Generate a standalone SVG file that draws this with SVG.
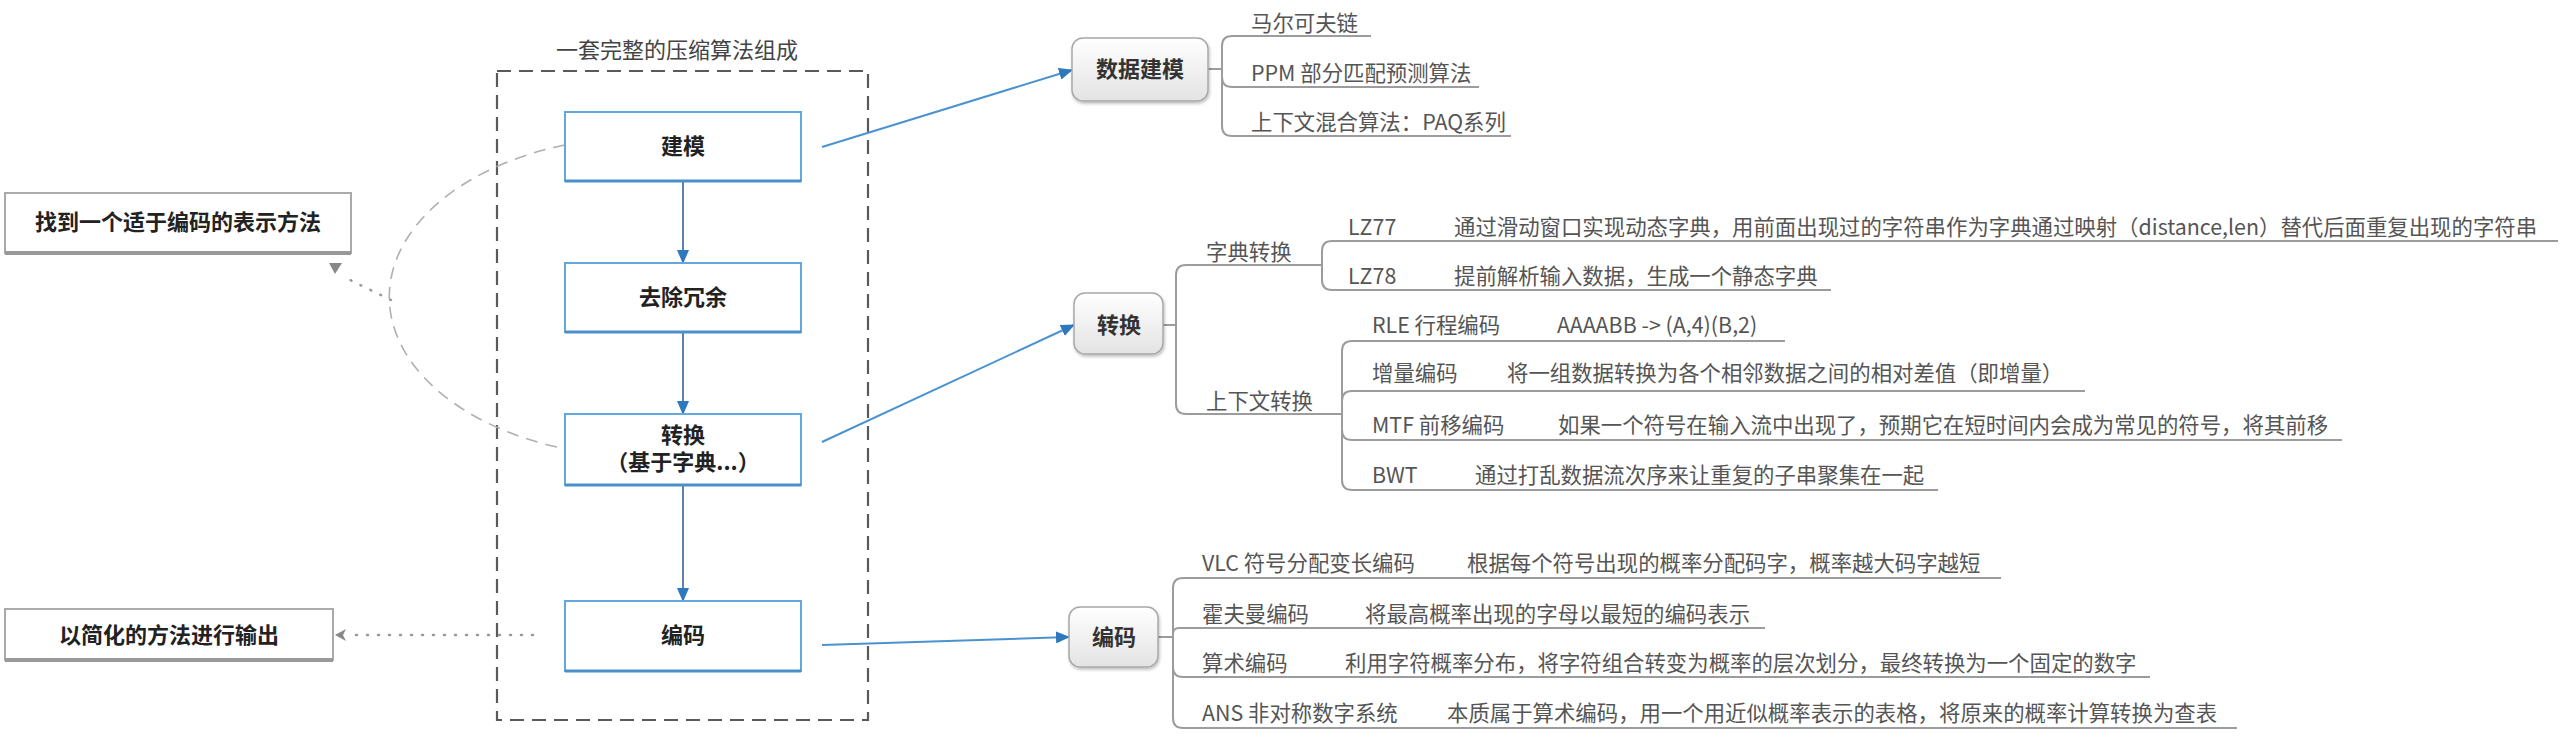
<svg xmlns="http://www.w3.org/2000/svg" width="2560" height="748" viewBox="0 0 2560 748">
<defs>
<style>
.t{font-family:"Noto Sans CJK SC","Noto Sans",sans-serif;}
.leaf{font-size:21.4px;fill:#555;}
.bx{font-size:22px;font-weight:bold;fill:#222;text-anchor:middle;}
.nd{font-size:22px;font-weight:bold;fill:#333;text-anchor:middle;}
.box{fill:#fff;stroke:#62A8DE;stroke-width:2;}
.boxb{stroke:#4A90CC;stroke-width:3;}
.gbox{fill:#fff;stroke:#aaa;stroke-width:2;}
.gboxb{stroke:#999;stroke-width:4;}
.node{fill:url(#ng);stroke:#a8a8a8;stroke-width:1.5;filter:url(#sh);}
.br{fill:none;stroke:#9c9c9c;stroke-width:2;}
.blue{fill:none;stroke:#4A93D0;stroke-width:2;}
.flow{fill:none;stroke:#5A84AA;stroke-width:2;}
</style>
<linearGradient id="ng" x1="0" y1="0" x2="0" y2="1">
<stop offset="0" stop-color="#ffffff"/>
<stop offset="1" stop-color="#e3e3e3"/>
</linearGradient>
<filter id="sh" x="-10%" y="-10%" width="130%" height="140%">
<feDropShadow dx="1" dy="2" stdDeviation="1.5" flood-color="#000" flood-opacity="0.25"/>
</filter>
<marker id="ab" markerWidth="14" markerHeight="12" refX="13" refY="6" orient="auto" markerUnits="userSpaceOnUse">
<path d="M0,0 L14,6 L0,12 z" fill="#2E78BE"/>
</marker>
</defs>
<rect width="2560" height="748" fill="#fff"/>

<g id="frame">
<rect x="497" y="71" width="371" height="649" fill="none" stroke="#5a5a5a" stroke-width="2.2" stroke-dasharray="14,8"/>
<text class="t" x="677" y="58" font-size="22" fill="#444" text-anchor="middle">一套完整的压缩算法组成</text>
</g>

<g id="connectors">
<path d="M565,145 A256,160 0 0 0 561,448" fill="none" stroke="#b0b0b0" stroke-width="1.6" stroke-dasharray="12,8"/>
<path d="M391,300 L346,278" fill="none" stroke="#999" stroke-width="2.5" stroke-dasharray="1,10" stroke-linecap="round"/>
<polygon points="329,263 342,263 335,274" fill="#888"/>
<path d="M533,635 H347" fill="none" stroke="#999" stroke-width="2.5" stroke-dasharray="1,10" stroke-linecap="round"/>
<polygon points="335,635 346,629 343,635 346,641" fill="#888"/>
<line class="flow" x1="683" y1="181" x2="683" y2="263" marker-end="url(#ab)"/>
<line class="flow" x1="683" y1="332" x2="683" y2="414" marker-end="url(#ab)"/>
<line class="flow" x1="683" y1="485" x2="683" y2="601" marker-end="url(#ab)"/>
<line class="blue" x1="822" y1="147" x2="1072" y2="70" marker-end="url(#ab)"/>
<line class="blue" x1="822" y1="442" x2="1074" y2="325" marker-end="url(#ab)"/>
<line class="blue" x1="822" y1="645" x2="1069" y2="637" marker-end="url(#ab)"/>
<path class="br" d="M1208,69 H1222 M1222,69 V46 Q1222,36 1232,36 H1371 M1222,69 V77 Q1222,87 1232,87 H1479 M1222,69 V126 Q1222,136 1232,136 H1511"/>
<path class="br" d="M1163,325 H1176 M1176,325 V275 Q1176,265 1186,265 H1322 M1176,325 V404 Q1176,414 1186,414 H1342"/>
<path class="br" d="M1322,265 V251 Q1322,241 1332,241 H2558 M1322,265 V280 Q1322,290 1332,290 H1831"/>
<path class="br" d="M1342,414 V351 Q1342,341 1352,341 H1785 M1342,414 V401 Q1342,391 1352,391 H2085 M1342,414 V430 Q1342,440 1352,440 H2342 M1342,414 V480 Q1342,490 1352,490 H1938"/>
<path class="br" d="M1158,637 H1173 M1173,637 V588 Q1173,578 1183,578 H2001 M1173,637 V634 Q1173,628 1179,628 H1765 M1173,637 V667 Q1173,677 1183,677 H2150 M1173,637 V718 Q1173,728 1183,728 H2237"/>
</g>

<g id="find">
<rect class="gbox" x="5" y="193" width="346" height="60"/>
<line class="gboxb" x1="5" y1="253" x2="351" y2="253"/>
<text class="t bx" x="178" y="230">找到一个适于编码的表示方法</text>
</g>
<g id="output">
<rect class="gbox" x="5" y="609" width="328" height="51"/>
<line class="gboxb" x1="5" y1="660" x2="333" y2="660"/>
<text class="t bx" x="169" y="643">以简化的方法进行输出</text>
</g>

<g id="modeling">
<rect class="box" x="565" y="112" width="236" height="69"/>
<line class="boxb" x1="565" y1="181" x2="801" y2="181"/>
<text class="t bx" x="683" y="154">建模</text>
</g>
<g id="dedup">
<rect class="box" x="565" y="263" width="236" height="69"/>
<line class="boxb" x1="565" y1="332" x2="801" y2="332"/>
<text class="t bx" x="683" y="305">去除冗余</text>
</g>
<g id="transform">
<rect class="box" x="565" y="414" width="236" height="71"/>
<line class="boxb" x1="565" y1="485" x2="801" y2="485"/>
<text class="t bx" x="683" y="443">转换</text>
<text class="t bx" x="683" y="470">（基于字典...）</text>
</g>
<g id="encode">
<rect class="box" x="565" y="601" width="236" height="70"/>
<line class="boxb" x1="565" y1="671" x2="801" y2="671"/>
<text class="t bx" x="683" y="643">编码</text>
</g>

<g id="n-modeling">
<rect class="node" x="1072" y="38" width="136" height="63" rx="11"/>
<text class="t nd" x="1140" y="77">数据建模</text>
</g>
<g id="n-transform">
<rect class="node" x="1074" y="293" width="89" height="61" rx="11"/>
<text class="t nd" x="1119" y="333">转换</text>
</g>
<g id="n-encode">
<rect class="node" x="1069" y="607" width="89" height="60" rx="11"/>
<text class="t nd" x="1114" y="645">编码</text>
</g>

<g id="leaves-modeling" class="t leaf">
<text x="1251" y="31">马尔可夫链</text>
<text x="1251" y="81">PPM 部分匹配预测算法</text>
<text x="1251" y="130">上下文混合算法：PAQ系列</text>
</g>
<g id="leaves-transform" class="t leaf">
<text x="1206" y="260">字典转换</text>
<text x="1348" y="235">LZ77</text>
<text x="1454" y="235">通过滑动窗口实现动态字典，用前面出现过的字符串作为字典通过映射（distance,len）替代后面重复出现的字符串</text>
<text x="1348" y="284">LZ78</text>
<text x="1454" y="284">提前解析输入数据，生成一个静态字典</text>
<text x="1206" y="409">上下文转换</text>
<text x="1372" y="333">RLE 行程编码</text>
<text x="1557" y="333">AAAABB -&gt; (A,4)(B,2)</text>
<text x="1372" y="381">增量编码</text>
<text x="1507" y="381">将一组数据转换为各个相邻数据之间的相对差值（即增量）</text>
<text x="1372" y="433">MTF 前移编码</text>
<text x="1558" y="433">如果一个符号在输入流中出现了，预期它在短时间内会成为常见的符号，将其前移</text>
<text x="1372" y="483">BWT</text>
<text x="1475" y="483">通过打乱数据流次序来让重复的子串聚集在一起</text>
</g>
<g id="leaves-encode" class="t leaf">
<text x="1202" y="571">VLC 符号分配变长编码</text>
<text x="1467" y="571">根据每个符号出现的概率分配码字，概率越大码字越短</text>
<text x="1202" y="622">霍夫曼编码</text>
<text x="1365" y="622">将最高概率出现的字母以最短的编码表示</text>
<text x="1202" y="671">算术编码</text>
<text x="1345" y="671">利用字符概率分布，将字符组合转变为概率的层次划分，最终转换为一个固定的数字</text>
<text x="1202" y="721">ANS 非对称数字系统</text>
<text x="1447" y="721">本质属于算术编码，用一个用近似概率表示的表格，将原来的概率计算转换为查表</text>
</g>
</svg>
